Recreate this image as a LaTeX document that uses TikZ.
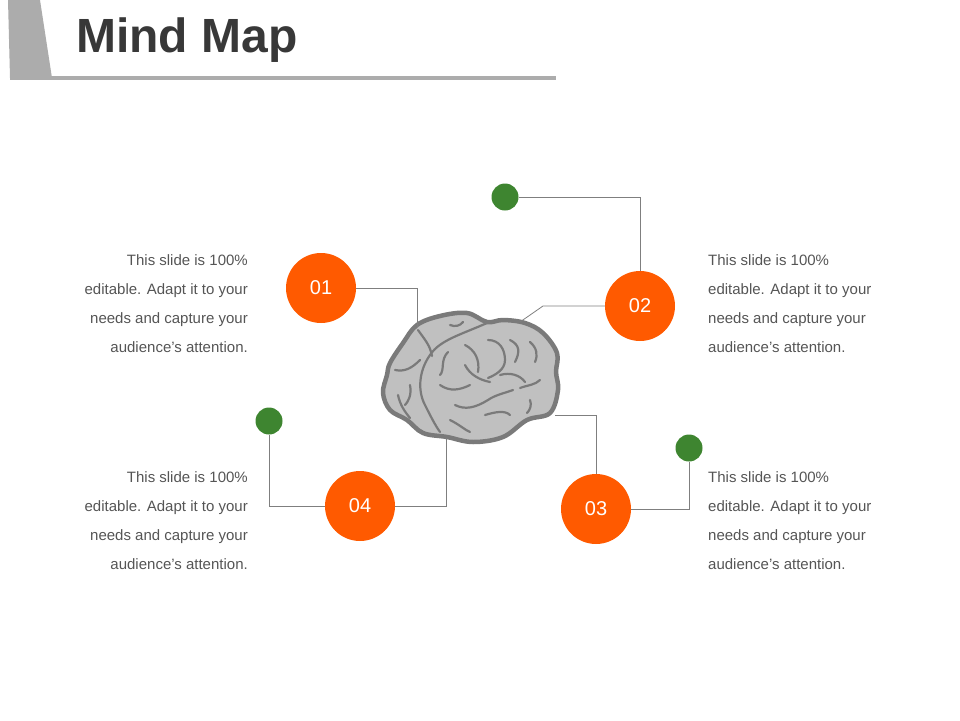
\documentclass[tikz,border=0pt]{standalone}
\usepackage{fontspec}
\setmainfont{Liberation Sans}
\begin{document}
\begin{tikzpicture}[x=1pt,y=-1pt,
  orange/.style={circle,fill=orng,minimum size=70pt,inner sep=0pt,text=white,font=\fontsize{20}{20}\selectfont},
  gdot/.style={circle,fill=grn,minimum size=27pt,inner sep=0pt},
  conn/.style={draw=lin,line width=0.8pt},
  txtl/.style={align=right,anchor=north east,text=txt,font=\fontsize{15}{29}\selectfont,inner sep=0pt},
  txtr/.style={align=left,anchor=north west,text=txt,font=\fontsize{15}{29}\selectfont,inner sep=0pt},
  gyri/.style={draw=brd,line width=2.2pt,line cap=round}]
\definecolor{orng}{HTML}{FF5A00}
\definecolor{grn}{HTML}{3E8530}
\definecolor{lin}{HTML}{7F7F7F}
\definecolor{txt}{HTML}{555555}
\definecolor{brd}{HTML}{7A7A7A}
\definecolor{bfill}{HTML}{C0C0C0}
\useasboundingbox (0,0) rectangle (960,720);
% header
\fill[gray!65] (8,0) -- (40,0) -- (52,78) -- (10,78) -- cycle;
\fill[gray!65] (10,75.5) rectangle (556,79.5);
\node[anchor=west,font=\bfseries\fontsize{48}{48}\selectfont,text=black!78,inner sep=0pt] (title) at (76,40) {Mind Map};
% brain
\filldraw[fill=bfill,draw=brd,line width=4.5pt,line join=round] plot[smooth cycle,tension=0.6] coordinates {
 (417,325) (440,316) (467,313) (487,322) (503,320) (525,323) (543,333) (557,353) (556,372) (558,390) (550,413) (527,420) (503,437) (473,442) (447,437) (423,433) (407,420) (390,410) (383,393) (387,375) (390,363) (403,343)};
\coordinate (bt) at (417,327);
\coordinate (btr) at (520,322);
\coordinate (br) at (555,415);
\coordinate (bb) at (446,438);
\draw[gyri] (487,323) .. controls (460,335) and (440,340) .. (430,355) .. controls (418,372) and (418,392) .. (425,405) .. controls (430,415) and (435,425) .. (440,432);
\draw[gyri] (418,330) .. controls (425,340) and (430,345) .. (432,356);
\draw[gyri] (395,370) .. controls (405,372) and (412,368) .. (420,360);
\draw[gyri] (398,395) .. controls (400,405) and (405,412) .. (410,418);
\draw[gyri] (410,385) .. controls (412,395) and (408,402) .. (405,405);
\draw[gyri] (450,325) .. controls (455,327) and (460,326) .. (463,322);
\draw[gyri] (448,352) .. controls (440,360) and (445,370) .. (440,375);
\draw[gyri] (465,345) .. controls (475,350) and (480,360) .. (478,372);
\draw[gyri] (488,340) .. controls (500,340) and (505,350) .. (505,360) .. controls (505,370) and (495,375) .. (488,378);
\draw[gyri] (510,340) .. controls (520,345) and (520,352) .. (515,362);
\draw[gyri] (530,342) .. controls (537,348) and (538,355) .. (535,362);
\draw[gyri] (440,385) .. controls (450,392) and (460,390) .. (470,385);
\draw[gyri] (455,405) .. controls (465,410) and (475,408) .. (488,400) .. controls (495,395) and (505,393) .. (513,390);
\draw[gyri] (520,388) .. controls (528,385) and (535,385) .. (540,380);
\draw[gyri] (485,415) .. controls (495,412) and (505,410) .. (510,415);
\draw[gyri] (450,420) .. controls (460,425) and (465,430) .. (470,432);
\draw[gyri] (530,400) .. controls (532,405) and (530,410) .. (527,413);
\draw[gyri] (500,375) .. controls (510,372) and (520,375) .. (525,382);
\draw[gyri] (465,365) .. controls (470,375) and (480,380) .. (490,382);
% circles
\node[orange] (c1) at (321,288) {01};
\node[orange] (c2) at (640,306) {02};
\node[orange] (c3) at (596,509) {03};
\node[orange] (c4) at (360,506) {04};
\node[gdot] (g2) at (505,197) {};
\node[gdot] (g4) at (269,421) {};
\node[gdot] (g3) at (689,448) {};
% connectors
\draw[conn] (c1.east) -| (bt);
\draw[conn] (c2.west) -- (543,306) -- (btr);
\draw[conn] (g2.east) -| (c2.north);
\draw[conn] (br) -| (c3.north);
\draw[conn] (c3.east) -| (g3.south);
\draw[conn] (c4.east) -| (bb);
\draw[conn] (c4.west) -| (g4.south);
% texts
\node[txtl] (t1) at (248,254) {This slide is 100\%\\editable. Adapt it to your\\needs and capture your\\audience's attention.};
\node[txtr] (t2) at (708,254) {This slide is 100\%\\editable. Adapt it to your\\needs and capture your\\audience's attention.};
\node[txtl] (t4) at (248,471) {This slide is 100\%\\editable. Adapt it to your\\needs and capture your\\audience's attention.};
\node[txtr] (t3) at (708,471) {This slide is 100\%\\editable. Adapt it to your\\needs and capture your\\audience's attention.};
\end{tikzpicture}
\end{document}
